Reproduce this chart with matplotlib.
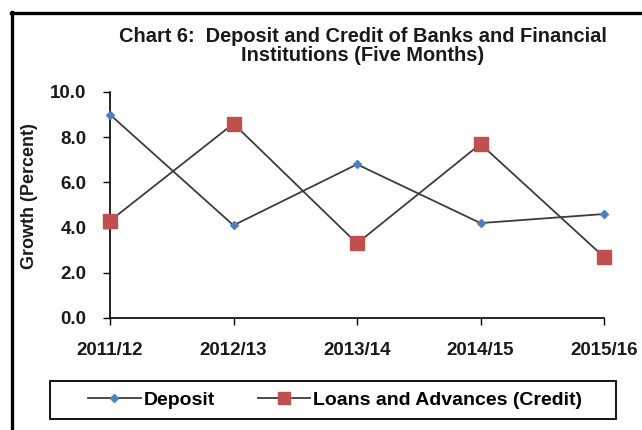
import matplotlib
matplotlib.use("Agg")
import matplotlib.pyplot as plt
from matplotlib.lines import Line2D
from matplotlib.patches import Rectangle

years = ["2011/12", "2012/13", "2013/14", "2014/15", "2015/16"]
deposit = [9.0, 4.1, 6.8, 4.2, 4.6]
credit = [4.3, 8.6, 3.3, 7.7, 2.7]
y_ticks = [0.0, 2.0, 4.0, 6.0, 8.0, 10.0]

font = "Liberation Sans"
txt_col = "#1a1a1a"
line_col = "#3c3c3c"
dep_col = "#4F81BD"
cred_col = "#C0504D"

W, H = 642, 430
fig = plt.figure(figsize=(W / 100, H / 100), dpi=100)

ax = fig.add_axes([110 / W, (H - 318) / H, (604 - 110) / W, (318 - 92) / H])
x = list(range(len(years)))
ax.plot(x, deposit, color=line_col, lw=1.3, marker="D", ms=4.5,
        mfc=dep_col, mec=dep_col, zorder=3, clip_on=False)
ax.plot(x, credit, color=line_col, lw=1.3, marker="s", ms=10.5,
        mfc=cred_col, mec=cred_col, zorder=3, clip_on=False)

ax.set_xlim(0, len(years) - 1)
ax.set_ylim(0, 10)
ax.set_xticks(x)
ax.set_xticklabels(years)
ax.set_yticks(y_ticks)
ax.set_yticklabels([f"{v:.1f}" for v in y_ticks])
for s in ("top", "right"):
    ax.spines[s].set_visible(False)
for s in ("left", "bottom"):
    ax.spines[s].set_linewidth(1.2)
    ax.spines[s].set_color("black")
ax.tick_params(axis="both", direction="out", length=5, width=1.0, colors="black")
ax.tick_params(axis="x", pad=12)
ax.tick_params(axis="y", pad=12)
for lab in ax.get_xticklabels() + ax.get_yticklabels():
    lab.set_fontfamily(font)
    lab.set_fontweight("bold")
    lab.set_fontsize(13.5)
    lab.set_color(txt_col)

fig.text(30 / W, 1 - 196 / H, "Growth (Percent)", rotation=90, ha="center",
         va="center", fontsize=13, fontweight="bold", family=font, color=txt_col)

fig.text(363 / W, 1 - 36.5 / H, "Chart 6:  Deposit and Credit of Banks and Financial",
         ha="center", va="center", fontsize=14.4, fontweight="bold", family=font,
         color=txt_col)
fig.text(363 / W, 1 - 55.5 / H, "Institutions (Five Months)",
         ha="center", va="center", fontsize=14.4, fontweight="bold", family=font,
         color=txt_col)

# legend entries (frame drawn separately below)
handles = [
    Line2D([], [], color=line_col, lw=1.3, marker="D", ms=4.5,
           mfc=dep_col, mec=dep_col),
    Line2D([], [], color=line_col, lw=1.3, marker="s", ms=8,
           mfc=cred_col, mec=cred_col),
]
fig.legend(handles, ["Deposit", "Loans and Advances (Credit)"],
           loc="center", bbox_to_anchor=(335 / W, 1 - 400 / H),
           bbox_transform=fig.transFigure,
           ncol=2, frameon=False, handlelength=2.7,
           handletextpad=0.15, columnspacing=2.2, borderpad=0.0,
           prop={"family": font, "weight": "bold", "size": 14})
fig.add_artist(Rectangle((50 / W, 1 - 419 / H), (616 - 50) / W, 38 / H,
                         transform=fig.transFigure, fill=False,
                         edgecolor="black", lw=1.3))

# outer chart border (top and left edges)
fig.add_artist(Line2D([11 / W, 1.0], [1 - 13 / H, 1 - 13 / H], color="black",
                      lw=2.4, transform=fig.transFigure))
fig.add_artist(Line2D([12 / W, 12 / W], [1 - 12 / H, 0.0], color="black",
                      lw=2.4, transform=fig.transFigure))

fig.savefig("out.png", dpi=100)
